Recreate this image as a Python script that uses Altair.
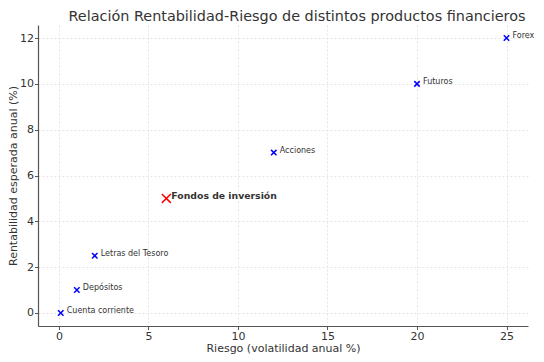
import altair as alt
import pandas as pd

names = ["Cuenta corriente", "Depósitos", "Letras del Tesoro", "Acciones", "Futuros", "Forex"]
riesgo = [0.1, 1.0, 2.0, 12.0, 20.0, 25.0]
rent = [0.0, 1.0, 2.5, 7.0, 10.0, 12.0]

hl_name = ["Fondos de inversión"]
hl_riesgo = [6.0]
hl_rent = [5.0]

df = pd.DataFrame({"name": names, "x": riesgo, "y": rent})
dh = pd.DataFrame({"name": hl_name, "x": hl_riesgo, "y": hl_rent})

FONT = "DejaVu Sans"
xcross = "M-1,-1L1,1M-1,1L1,-1"

xs = alt.Scale(domain=[-1.17, 26.2], nice=False, zero=False)
ys = alt.Scale(domain=[-0.57, 12.57], nice=False, zero=False)

xenc = alt.X("x:Q", scale=xs, title="Riesgo (volatilidad anual %)",
             axis=alt.Axis(values=[0, 5, 10, 15, 20, 25], format="d"))
yenc = alt.Y("y:Q", scale=ys, title="Rentabilidad esperada anual (%)",
             axis=alt.Axis(values=[0, 2, 4, 6, 8, 10, 12], format="d"))

pts = alt.Chart(df).mark_point(shape=xcross, filled=False, color="blue",
                               strokeWidth=1.5, size=30, opacity=1).encode(x=xenc, y=yenc)
lbl = alt.Chart(df).mark_text(align="left", baseline="middle", dx=6, dy=-2,
                              fontSize=8, font=FONT, color="#333333").encode(x=xenc, y=yenc, text="name")
hpts = alt.Chart(dh).mark_point(shape=xcross, filled=False, color="red",
                                strokeWidth=1.5, size=80, opacity=1).encode(x=xenc, y=yenc)
hlbl = alt.Chart(dh).mark_text(align="left", baseline="middle", dx=5, dy=-2,
                               fontSize=9.3, fontWeight="bold", font=FONT,
                               color="#333333").encode(x=xenc, y=yenc, text="name")

chart = alt.layer(pts, lbl, hpts, hlbl).properties(
    width=490, height=301,
    title=alt.TitleParams("Relación Rentabilidad-Riesgo de distintos productos financieros",
                          font=FONT, fontSize=14.4, fontWeight="normal", color="#333333",
                          offset=1, dx=14),
    autosize=alt.AutoSizeParams(type="none"),
    padding={"left": 30, "top": 17, "right": 8, "bottom": 30},
).configure_view(stroke=None).configure_axis(
    domainColor="#555555", domainWidth=1.2, tickColor="#555555", tickSize=3.5,
    labelFont=FONT, labelFontSize=11, labelColor="#333333", labelPadding=1,
    titleFont=FONT, titleFontSize=11, titleFontWeight="normal", titleColor="#333333",
    gridColor="#dddddd", gridDash=[2, 2], gridWidth=0.8,
).configure_axisX(titlePadding=1).configure_axisY(titlePadding=1)

chart.save("out.html", embed_options={"renderer": "svg", "actions": False})
